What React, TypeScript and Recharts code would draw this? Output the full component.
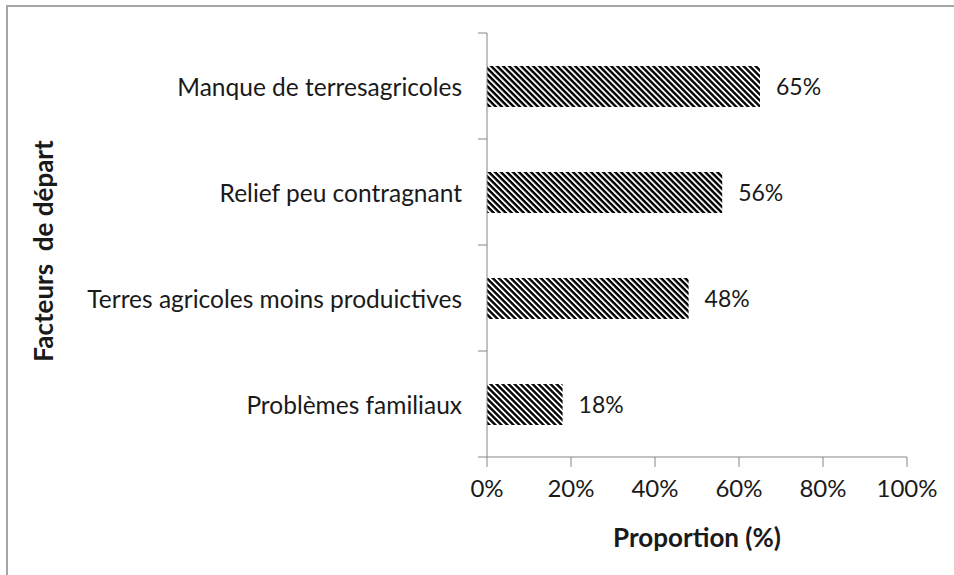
import { BarChart, Bar, XAxis, YAxis, LabelList, Label } from 'recharts';

// ---------------------------------------------------------------------------
// Data
// ---------------------------------------------------------------------------

const categories = [
  'Manque de terresagricoles',
  'Relief peu contragnant',
  'Terres agricoles moins produictives',
  'Problèmes familiaux',
];
const proportions = [65, 56, 48, 18];
const xTicks = [0, 20, 40, 60, 80, 100];

const data = categories.map((name, i) => ({ name, value: proportions[i] }));

// ---------------------------------------------------------------------------
// Layout
// ---------------------------------------------------------------------------

const WIDTH = 954;
const HEIGHT = 575;
const FONT = 'Lato, "Noto Sans", sans-serif';
const AXIS_COLOR = '#868686';
const TEXT_COLOR = '#1a1a1a';
const PLOT_TOP = 33;
const PLOT_BOTTOM = 457;
const BAND = (PLOT_BOTTOM - PLOT_TOP) / categories.length;

/** Category tick: right aligned label, tick marks on band boundaries */
function CategoryTick(props: any) {
  const { x, y, payload, index } = props;
  const last = index === categories.length - 1;
  return (
    <g>
      <line x1={x - 9} x2={x} y1={y - BAND / 2} y2={y - BAND / 2} stroke={AXIS_COLOR} />
      {last && <line x1={x - 9} x2={x} y1={y + BAND / 2} y2={y + BAND / 2} stroke={AXIS_COLOR} />}
      <text x={x - 25} y={y + 1} dy="0.36em" textAnchor="end" fontSize={24.5} fill={TEXT_COLOR} fontFamily={FONT}>
        {payload.value}
      </text>
    </g>
  );
}

function YTitle(props: any) {
  const { viewBox } = props;
  const cy = viewBox.y + viewBox.height / 2 + 6;
  const cx = 44;
  return (
    <text
      x={cx}
      y={cy}
      transform={`rotate(-90, ${cx}, ${cy})`}
      textAnchor="middle"
      dy="0.36em"
      fontSize={26}
      fontWeight={700}
      fill={TEXT_COLOR}
      fontFamily={FONT}
      style={{ whiteSpace: 'pre' }}
    >
      {'Facteurs  de départ'}
    </text>
  );
}

export default function App() {
  return (
    <div style={{ position: 'absolute', left: 0, top: 0, width: WIDTH, height: HEIGHT, background: '#fff', overflow: 'hidden' }}>
      <div
        style={{
          position: 'absolute',
          left: 6,
          top: 5,
          width: WIDTH,
          height: HEIGHT + 20,
          borderLeft: '2px solid #a6a6a6',
          borderTop: '2px solid #a6a6a6',
        }}
      />
      <div style={{ position: 'absolute', left: 0, top: 0 }}>
        <BarChart
          width={WIDTH}
          height={HEIGHT}
          data={data}
          layout="vertical"
          margin={{ top: PLOT_TOP, right: 47, bottom: 18, left: 0 }}
        >
          <defs>
            <pattern id="hatch" patternUnits="userSpaceOnUse" width="4.25" height="4.25" patternTransform="rotate(45)">
              <rect x="0" y="0" width="4.25" height="4.25" fill="#fff" />
              <rect x="0" y="0" width="4.25" height="2.4" fill="#000" />
            </pattern>
          </defs>
          <XAxis
            type="number"
            domain={[0, 100]}
            ticks={xTicks}
            tickFormatter={(v: number) => `${v}%`}
            height={100}
            stroke={AXIS_COLOR}
            tickSize={10}
            tickMargin={13}
            tick={{ fill: TEXT_COLOR, fontSize: 24, fontFamily: FONT }}
            interval={0}
          >
            <Label
              value="Proportion  (%)"
              position="insideBottom"
              offset={10}
              style={{ fontSize: 26, fontWeight: 700, fill: TEXT_COLOR, fontFamily: FONT, whiteSpace: 'pre' }}
            />
          </XAxis>
          <YAxis
            type="category"
            dataKey="name"
            width={487}
            stroke={AXIS_COLOR}
            tickLine={false}
            tickSize={0}
            tickMargin={0}
            tick={<CategoryTick />}
            interval={0}
          >
            <Label content={<YTitle />} />
          </YAxis>
          <Bar dataKey="value" fill="url(#hatch)" barSize={41} isAnimationActive={false}>
            <LabelList
              dataKey="value"
              position="right"
              offset={16}
              formatter={(v: any) => `${v}%`}
              style={{ fill: TEXT_COLOR, fontSize: 23, fontFamily: FONT }}
            />
          </Bar>
        </BarChart>
      </div>
    </div>
  );
}
